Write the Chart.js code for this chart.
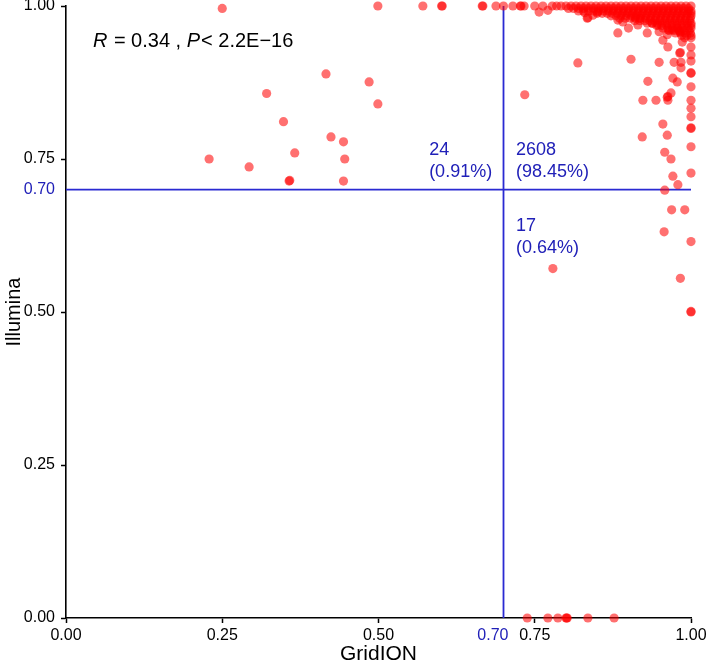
<!DOCTYPE html>
<html>
<head>
<meta charset="utf-8">
<script src="https://cdn.jsdelivr.net/npm/chart.js@4.4.0/dist/chart.umd.min.js"></script>
<style>
  html, body { margin: 0; padding: 0; background: #fff; }
</style>
</head>
<body>
<canvas id="scatterChart" width="708" height="663"></canvas>
<script>
// axis ticks and cutoff
const xTickValues = [0, 0.25, 0.5, 0.75, 1];
const yTickValues = [0, 0.25, 0.5, 0.7, 0.75, 1];
const cutoff = 0.7;

// quadrant annotations
const quadrantCounts = ['24', '2608', '17'];
const quadrantPercents = ['(0.91%)', '(98.45%)', '(0.64%)'];
const statParts = [['R', true], [' = 0.34 , ', false], ['P', true], ['< 2.2E\u221216', false]];

// [GridION, Illumina] pairs
const upperLeft = [
  [0.25, 0.996], [0.499, 1], [0.571, 1], [0.601, 1], [0.602, 1], [0.666, 1], [0.667, 1], [0.688, 1],
  [0.416, 0.889], [0.485, 0.876], [0.321, 0.857], [0.499, 0.840], [0.348, 0.811], [0.424, 0.786],
  [0.444, 0.778], [0.366, 0.760], [0.229, 0.750], [0.446, 0.750], [0.293, 0.737], [0.357, 0.714],
  [0.358, 0.715], [0.444, 0.714]
];
const lowerRight = [
  [0.958, 0.699], [0.969, 0.667], [0.990, 0.667], [0.957, 0.631], [1.0, 0.615], [0.779, 0.571],
  [0.983, 0.555], [1.0, 0.50], [1.0, 0.501],
  [0.738, 0], [0.771, 0], [0.787, 0], [0.800, 0], [0.801, 0], [0.802, 0], [0.835, 0], [0.877, 0]
];
const upperRightScatter = [
  [0.70, 1], [0.715, 1], [0.727, 1], [0.728, 1], [0.733, 1], [0.75, 1], [0.757, 0.99], [0.763, 1],
  [0.771, 0.993], [0.778, 1], [0.785, 1], [0.792, 1], [0.834, 0.98], [0.835, 0.981], [0.85, 0.99],
  [0.83, 0.989], [0.843, 0.985], [0.886, 0.98], [0.891, 0.974], [0.91, 0.982], [0.918, 0.98],
  [0.938, 0.972], [0.947, 0.969], [0.963, 0.961], [0.978, 0.964],
  [0.883, 0.956], [0.883, 0.977], [0.90, 0.964], [0.915, 0.969], [0.93, 0.956], [0.949, 0.958],
  [0.955, 0.944], [0.962, 0.953], [0.963, 0.933], [0.97, 0.961], [0.982, 0.958], [0.983, 0.959],
  [0.986, 0.941], [1.0, 0.933], [1.0, 0.92], [0.982, 0.923], [0.983, 0.924], [1.0, 0.91],
  [0.973, 0.908], [0.984, 0.908], [0.984, 0.899], [1.0, 0.89], [1.0, 0.891], [0.904, 0.913],
  [0.949, 0.908], [0.819, 0.907], [0.971, 0.882], [0.978, 0.876], [0.931, 0.877], [1.0, 0.868],
  [0.968, 0.858], [0.734, 0.855], [0.923, 0.846], [0.944, 0.846], [0.962, 0.851], [0.963, 0.852],
  [0.963, 0.846], [1.0, 0.846], [1.0, 0.833], [1.0, 0.819], [0.955, 0.807], [1.0, 0.801],
  [1.0, 0.800], [0.922, 0.786], [0.962, 0.789], [1.0, 0.770], [0.958, 0.761], [0.968, 0.750],
  [1.0, 0.727], [0.971, 0.722], [0.979, 0.708]
];

// dense block in the top right corner, one row of GridION values per Illumina value
const denseRowY = [1, 0.996, 0.992, 0.988, 0.984, 0.98, 0.976, 0.972, 0.968, 0.964, 0.96, 0.956, 0.952, 0.948];
const denseRowX = [
  [0.800, 0.808, 0.816, 0.824, 0.832, 0.840, 0.848, 0.856, 0.864, 0.872, 0.880, 0.888, 0.896,
   0.904, 0.912, 0.920, 0.928, 0.936, 0.944, 0.952, 0.960, 0.968, 0.976, 0.984, 0.992, 1.0],
  [0.804, 0.812, 0.820, 0.828, 0.836, 0.844, 0.852, 0.860, 0.868, 0.876, 0.884, 0.892, 0.900,
   0.908, 0.916, 0.924, 0.932, 0.940, 0.948, 0.956, 0.964, 0.972, 0.980, 0.988, 0.996],
  [0.82, 0.828, 0.836, 0.844, 0.852, 0.86, 0.868, 0.876, 0.884, 0.892, 0.9, 0.908, 0.916, 0.924,
   0.932, 0.94, 0.948, 0.956, 0.964, 0.972, 0.98, 0.988, 0.996, 1.0],
  [0.85, 0.858, 0.866, 0.874, 0.882, 0.89, 0.898, 0.906, 0.914, 0.922, 0.93, 0.938, 0.946, 0.954,
   0.962, 0.97, 0.978, 0.986, 0.994, 1.0],
  [0.872, 0.88, 0.888, 0.896, 0.904, 0.912, 0.92, 0.928, 0.936, 0.944, 0.952, 0.96, 0.968, 0.976,
   0.984, 0.992, 1.0],
  [0.895, 0.903, 0.911, 0.919, 0.927, 0.935, 0.943, 0.951, 0.959, 0.967, 0.975, 0.983, 0.991, 0.999],
  [0.91, 0.918, 0.926, 0.934, 0.942, 0.95, 0.958, 0.966, 0.974, 0.982, 0.99, 0.998],
  [0.93, 0.938, 0.946, 0.954, 0.962, 0.97, 0.978, 0.986, 0.994, 1.0],
  [0.945, 0.953, 0.961, 0.969, 0.977, 0.985, 0.993, 1.0],
  [0.955, 0.963, 0.971, 0.979, 0.987, 0.995, 1.0],
  [0.965, 0.973, 0.981, 0.989, 0.997],
  [0.975, 0.983, 0.991, 0.999],
  [0.985, 0.993, 1.0],
  [0.99, 1.0]
];

const blueLine = '#2a2ad2';
const blueText = '#2020b8';
const fontFamily = '"Liberation Sans", Arial, sans-serif';

const denseCluster = [];
denseRowY.forEach((yv, i) => denseRowX[i].forEach(xv => denseCluster.push([xv, yv])));

const allPoints = upperLeft.concat(upperRightScatter, denseCluster, lowerRight)
  .map(p => ({ x: p[0], y: p[1] }));

const annotationPlugin = {
  id: 'annotations',
  afterDatasetsDraw(chart) {
    const { ctx } = chart;
    const xs = chart.scales.x, ys = chart.scales.y;
    ctx.save();
    ctx.textBaseline = 'alphabetic';
    ctx.textAlign = 'left';
    ctx.font = '18px ' + fontFamily;
    ctx.fillStyle = blueText;
    const anchors = [[0.581, 0.757], [0.72, 0.757], [0.72, 0.632]];
    anchors.forEach((a, i) => {
      const px = xs.getPixelForValue(a[0]);
      const py = ys.getPixelForValue(a[1]);
      ctx.fillText(quadrantCounts[i], px, py);
      ctx.fillText(quadrantPercents[i], px, py + 22);
    });
    // cutoff label under the x axis, pushed left of the line
    ctx.font = '16px ' + fontFamily;
    ctx.textAlign = 'right';
    ctx.fillText(cutoff.toFixed(2), xs.getPixelForValue(cutoff) + 5, chart.chartArea.bottom + 22);
    // correlation text
    ctx.textAlign = 'left';
    let px = xs.getPixelForValue(0.043);
    const py = ys.getPixelForValue(0.933);
    ctx.fillStyle = '#000';
    statParts.forEach(part => {
      ctx.font = (part[1] ? 'italic ' : '') + '20px ' + fontFamily;
      ctx.fillText(part[0], px, py);
      px += ctx.measureText(part[0]).width + (part[1] ? 1 : 0);
    });
    ctx.restore();
  }
};

const isCut = c => c.tick && Math.abs(c.tick.value - cutoff) < 1e-9;
const tickColor = c => isCut(c) ? blueText : '#000';
const markColor = c => isCut(c) ? 'rgba(0,0,0,0)' : '#000';

const ctx = document.getElementById('scatterChart').getContext('2d');
const chart = new Chart(ctx, {
  type: 'scatter',
  data: {
    datasets: [
      {
        data: allPoints,
        backgroundColor: 'rgba(255, 0, 0, 0.56)',
        borderWidth: 0,
        pointRadius: 4.6,
        clip: false,
        order: 1
      },
      {
        type: 'line',
        data: [{ x: cutoff, y: 0 }, { x: cutoff, y: 1 }],
        borderColor: blueLine,
        borderWidth: 1.8,
        pointRadius: 0,
        fill: false,
        order: 2
      },
      {
        type: 'line',
        data: [{ x: 0, y: cutoff }, { x: 1, y: cutoff }],
        borderColor: blueLine,
        borderWidth: 1.8,
        pointRadius: 0,
        fill: false,
        order: 2
      }
    ]
  },
  options: {
    responsive: false,
    animation: false,
    layout: { padding: { top: 6, right: 17, left: 0, bottom: 0 } },
    plugins: { legend: { display: false }, tooltip: { enabled: false } },
    scales: {
      x: {
        type: 'linear',
        position: 'bottom',
        min: 0,
        max: 1,
        afterBuildTicks: s => { s.ticks = xTickValues.map(v => ({ value: v })); },
        afterFit: s => { s.height = 45; s.paddingLeft = 0; s.paddingRight = 0; },
        grid: { drawOnChartArea: false, tickLength: 5, tickColor: '#000', tickWidth: 1.5 },
        border: { color: '#000', width: 1.6 },
        ticks: {
          autoSkip: false,
          maxRotation: 0,
          padding: 3,
          color: '#000',
          font: { size: 16, family: fontFamily },
          callback: v => Number(v).toFixed(2)
        },
        title: {
          display: true,
          text: 'GridION',
          color: '#000',
          font: { size: 21, family: fontFamily, lineHeight: 0.8 },
          padding: { top: 0, bottom: 0 }
        }
      },
      y: {
        type: 'linear',
        min: 0,
        max: 1,
        afterBuildTicks: s => { s.ticks = yTickValues.map(v => ({ value: v })); },
        afterFit: s => { s.width = 66; s.paddingTop = 0; s.paddingBottom = 0; },
        grid: { drawOnChartArea: false, tickLength: 5, tickColor: markColor, tickWidth: 1.5 },
        border: { color: '#000', width: 1.6 },
        ticks: {
          autoSkip: false,
          padding: 6,
          color: tickColor,
          font: { size: 16, family: fontFamily },
          callback: v => Number(v).toFixed(2)
        },
        title: {
          display: true,
          text: 'Illumina',
          color: '#000',
          font: { size: 20, family: fontFamily },
          padding: { top: 2, bottom: 0 }
        }
      }
    }
  },
  plugins: [annotationPlugin]
});
</script>
</body>
</html>
